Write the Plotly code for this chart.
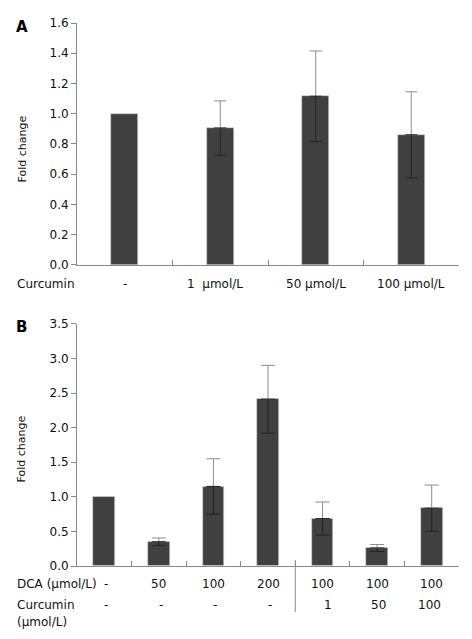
import plotly.graph_objects as go
from plotly.subplots import make_subplots

# Panel A data
a_labels = ["-", "1\u00a0 μmol/L", "50 μmol/L", "100 μmol/L"]
a_values = [1.0, 0.905, 1.115, 0.86]
a_errors = [0.0, 0.18, 0.30, 0.285]

# Panel B data
b_dca = ["-", "50", "100", "200", "100", "100", "100"]
b_curcumin = ["-", "-", "-", "-", "1", "50", "100"]
b_values = [1.0, 0.35, 1.15, 2.41, 0.685, 0.26, 0.835]
b_errors = [0.0, 0.055, 0.40, 0.49, 0.24, 0.05, 0.335]

BAR = "#404040"
AX = "#8a8a8a"
FONT = "DejaVu Sans"

OFF = 8  # page body margin offset
W, H = 472 - OFF, 639 - OFF
ML, MR, MT, MB = 77 - OFF, 13, 16 - OFF, 73
PW = W - ML - MR
PH = H - MT - MB


def py(ypx):
    # ypx in window pixels
    return (H - MB - (ypx - OFF)) / PH


def px(xpx):
    return (xpx - OFF - ML) / PW


fig = make_subplots(rows=2, cols=1, vertical_spacing=0.1)

for row, vals, errs, bw, cw in [(1, a_values, a_errors, 0.28, 6), (2, b_values, b_errors, 0.40, 7)]:
    xs = list(range(len(vals)))
    fig.add_trace(go.Bar(x=xs, y=vals, width=bw, marker=dict(color=BAR, line=dict(color="#d8d8d8", width=0.6)),
                         showlegend=False, hoverinfo="skip"), row=row, col=1)
    ex = [x for x, e in zip(xs, errs) if e > 0]
    ev = [v for v, e in zip(vals, errs) if e > 0]
    ee = [e for e in errs if e > 0]
    fig.add_trace(go.Scatter(x=ex, y=ev, mode="markers", marker=dict(size=1, opacity=0),
                             error_y=dict(type="data", symmetric=False, array=ee, arrayminus=[0] * len(ee),
                                          color="#8c8c8c", thickness=1, width=cw),
                             showlegend=False, hoverinfo="skip"), row=row, col=1)
    fig.add_trace(go.Scatter(x=ex, y=ev, mode="markers", marker=dict(size=1, opacity=0),
                             error_y=dict(type="data", symmetric=False, array=[0] * len(ee), arrayminus=ee,
                                          color="#222222", thickness=1, width=cw),
                             showlegend=False, hoverinfo="skip"), row=row, col=1)

fig.update_layout(
    width=W, height=H,
    margin=dict(l=ML, r=MR, t=MT, b=MB),
    plot_bgcolor="white", paper_bgcolor="white",
    font=dict(family=FONT, size=12, color="#111"),
    bargap=0,
)

fig.update_layout(
    yaxis=dict(domain=[py(261), 1.0]),
    yaxis2=dict(domain=[0.0, py(320.7)]),
)

n_a, n_b = len(a_values), len(b_values)
fig.update_xaxes(row=1, col=1, range=[-0.5, n_a - 0.5], tickvals=[i + 0.5 for i in range(n_a)])
fig.update_xaxes(row=2, col=1, range=[-0.5, n_b - 0.5], tickvals=[i + 0.5 for i in range(n_b)])
fig.update_xaxes(showticklabels=False, ticks="inside", ticklen=5, tickcolor=AX, showline=True,
                 linecolor=AX, linewidth=1, showgrid=False, zeroline=False)
fig.update_yaxes(row=1, col=1, range=[0, 1.6], dtick=0.2, tickformat=".1f")
fig.update_yaxes(row=2, col=1, range=[0, 3.5], dtick=0.5, tickformat=".1f")
fig.update_yaxes(ticks="outside", ticklen=5, tickcolor=AX, showline=True, linecolor=AX, linewidth=1,
                 showgrid=False, zeroline=False, tickfont=dict(family=FONT, size=12, color="#111"))

ann = []


def add(text, x, y, xref="paper", xanchor="center", **kw):
    ann.append(dict(text=text, x=x, y=y, xref=xref, yref="paper", xanchor=xanchor, yanchor="middle",
                    showarrow=False, **kw))


# panel letters
add("<b>A</b>", px(21.5), py(20), font=dict(size=15, family=FONT, color="#000"))
add("<b>B</b>", px(21.5), py(324), font=dict(size=15, family=FONT, color="#000"))
# y titles
for yc in (143, 447):
    add("Fold change", px(22), py(yc), textangle=-90, font=dict(size=11, family=FONT, color="#111"))
# Panel A x labels
add("Curcumin", px(15), py(280), xanchor="left")
a_shift = [0, -5, 0, 0]
for i, t in enumerate(a_labels):
    add(t, i, py(280), xref="x", xshift=a_shift[i])
# Panel B rows
add("DCA (μmol/L)", px(15), py(584.3), xanchor="left")
add("Curcumin", px(15), py(605.7), xanchor="left")
add("(μmol/L)", px(15), py(622.7), xanchor="left")
for i, t in enumerate(b_dca):
    add(t, i, py(584.3), xref="x2", xshift=2 if t == "-" else 0)
for i, t in enumerate(b_curcumin):
    if t == "-":
        add(t, i, py(605.7), xref="x2", xshift=2)
    else:
        add(t, i, py(605.7), xref="x2", xanchor="right", xshift=11)
fig.update_layout(annotations=ann)

# separator line in panel B
fig.add_shape(type="line", xref="x2", yref="paper", x0=3.5, x1=3.5, y0=py(560), y1=py(612.7),
              line=dict(color=AX, width=1))

fig.write_html("out.html")
